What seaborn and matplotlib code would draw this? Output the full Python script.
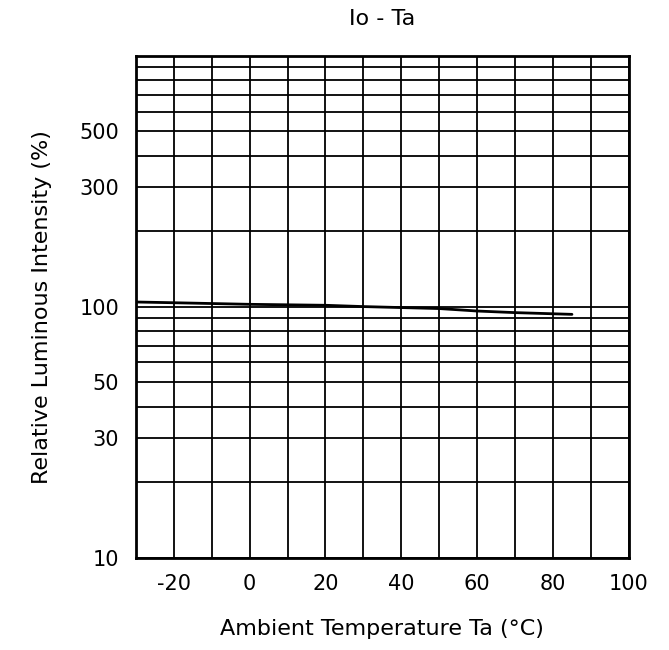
import numpy as np
import pandas as pd
import seaborn as sns
import matplotlib.pyplot as plt

# curve
temperature = [-30, -20, 0, 20, 30, 50, 60, 70, 85]
intensity = [104.5, 103.8, 102.3, 101.4, 100.2, 98.4, 96.2, 94.8, 93.3]

y_labels = [10, 30, 50, 100, 300, 500]
y_grid = list(range(10, 100, 10)) + list(range(100, 1001, 100))
x_ticks = [-20, 0, 20, 40, 60, 80, 100]
x_grid = list(range(-30, 101, 10))

sns.set_style("white")
plt.rcParams['font.family'] = ['DejaVu Sans']
plt.rcParams['text.color'] = "black"
plt.rcParams['axes.labelcolor'] = "black"

df = pd.DataFrame({"Ta": temperature, "Io": intensity})

fig = plt.figure(figsize=(6.69, 6.5), dpi=100)
ax = fig.add_axes([0.203, 0.142, 0.737, 0.772])

sns.lineplot(data=df, x="Ta", y="Io", color="black", linewidth=2, ax=ax)

ax.set_yscale("log")
ax.set_ylim(10, 1000)
ax.set_xlim(-30, 100)

ax.set_yticks(y_grid, minor=True)
ax.set_yticks(y_labels)
ax.set_yticklabels([str(v) for v in y_labels])
ax.yaxis.set_minor_formatter(plt.NullFormatter())
ax.set_xticks(x_grid, minor=True)
ax.set_xticks(x_ticks)
ax.set_xticklabels([str(v) for v in x_ticks])

ax.grid(True, which="both", color="black", linewidth=1.3)
ax.tick_params(which="both", length=0, labelsize=15, colors="black", pad=12)
for s in ax.spines.values():
    s.set_color("black")
    s.set_linewidth(2)

ax.set_title("Io - Ta", fontsize=16, pad=22, color="black")
ax.set_xlabel("Ambient Temperature Ta (°C)", fontsize=16, labelpad=18)
ax.set_ylabel("Relative Luminous Intensity (%)", fontsize=16, labelpad=20)

fig.savefig("out.png", dpi=100)
